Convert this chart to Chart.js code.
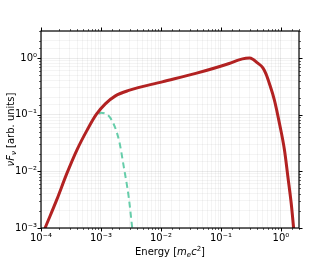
<!DOCTYPE html>
<html><head><meta charset="utf-8">
<script src="https://cdn.jsdelivr.net/npm/chart.js@4/dist/chart.umd.min.js"></script>
<style>html,body{margin:0;padding:0;background:#fff;}#wrap{width:332px;height:261px;}</style>
</head><body><div id="wrap"><canvas id="c" width="332" height="261"></canvas></div>
<script>
const totalEnergy = [1.1e-4, 1.17e-4, 1.82e-4, 2.69e-4, 3.98e-4, 5.9e-4, 8.3e-4, 1.18e-3, 1.74e-3, 2.9e-3, 1.05e-2, 3.8e-2, 0.137, 0.20, 0.26, 0.30, 0.34, 0.40, 0.50, 0.565, 0.641, 0.778, 0.944, 1.145, 1.305, 1.483, 1.62, 1.66];
const totalFlux   = [0.00085, 0.001, 0.0031, 0.0091, 0.024, 0.054, 0.10, 0.155, 0.215, 0.268, 0.38, 0.535, 0.80, 0.93, 0.99, 1.0, 0.95, 0.83, 0.67, 0.52, 0.356, 0.181, 0.0703, 0.0238, 0.00804, 0.00273, 0.00105, 0.0008];
const thermalEnergy = [9.2e-4, 1.0e-3, 1.45e-3, 2.0e-3, 2.4e-3, 2.9e-3, 3.3e-3, 3.4e-3];
const thermalFlux   = [0.104, 0.108, 0.086, 0.035, 0.012, 0.0035, 0.00105, 0.0008];
const xTickLabels = {"-4":"10\u207B\u2074","-3":"10\u207B\u00B3","-2":"10\u207B\u00B2","-1":"10\u207B\u00B9","0":"10\u2070"};
const yTickLabels = {"-3":"10\u207B\u00B3","-2":"10\u207B\u00B2","-1":"10\u207B\u00B9","0":"10\u2070"};

const FONT = "'DejaVu Sans', sans-serif";
function isMajor(v){ const l = Math.log10(v); return Math.abs(l - Math.round(l)) < 1e-6; }
function label(map, v){ if(!isMajor(v)) return ''; const k = String(Math.round(Math.log10(v))); return map[k] !== undefined ? map[k] : ''; }

function drawSegs(ctx, segs, x, y, center){
  let w = 0;
  segs.forEach(s=>{ ctx.font = s[1]; w += ctx.measureText(s[0]).width; });
  let cx = center ? x - w/2 : x;
  segs.forEach(s=>{ ctx.font = s[1]; ctx.fillText(s[0], cx, y + (s[2]||0)); cx += ctx.measureText(s[0]).width; });
}

const deco = {
  id: 'deco',
  afterDraw(chart){
    const ctx = chart.ctx, a = chart.chartArea;
    const xs = chart.scales.x, ys = chart.scales.y;
    ctx.save();
    ctx.strokeStyle = '#000';
    xs.ticks.forEach(t=>{
      const px = Math.round(xs.getPixelForValue(t.value)) + 0.5;
      const maj = isMajor(t.value), L = maj ? 3.5 : 2;
      ctx.lineWidth = maj ? 1 : 0.6;
      ctx.beginPath(); ctx.moveTo(px, a.bottom); ctx.lineTo(px, a.bottom + L); ctx.stroke();
      ctx.beginPath(); ctx.moveTo(px, a.top); ctx.lineTo(px, a.top - L); ctx.stroke();
    });
    ys.ticks.forEach(t=>{
      const py = Math.round(ys.getPixelForValue(t.value)) + 0.5;
      const maj = isMajor(t.value), L = maj ? 3.5 : 2;
      ctx.lineWidth = maj ? 1 : 0.6;
      ctx.beginPath(); ctx.moveTo(a.left, py); ctx.lineTo(a.left - L, py); ctx.stroke();
      ctx.beginPath(); ctx.moveTo(a.right, py); ctx.lineTo(a.right + L, py); ctx.stroke();
    });
    ctx.lineWidth = 1.2;
    ctx.strokeRect(a.left, a.top, a.right - a.left, a.bottom - a.top);
    ctx.fillStyle = '#000'; ctx.textBaseline = 'alphabetic';
    const n = "10px " + FONT, it = "italic 10px " + FONT, sm = "italic 7px " + FONT, smn = "7px " + FONT;
    drawSegs(ctx, [["Energy [", n], ["m", it], ["e", sm, 2], ["c", it], ["2", smn, -4], ["]", n]], (a.left + a.right)/2, 255, true);
    ctx.translate(14, (a.top + a.bottom)/2);
    ctx.rotate(-Math.PI/2);
    drawSegs(ctx, [["\u03BD", it], ["F", it], ["\u03BD", sm, 2], [" [arb. units]", n]], 0, 0, true);
    ctx.restore();
  }
};

const gridColor = ctx => (ctx.tick && isMajor(ctx.tick.value)) ? 'rgba(0,0,0,0.08)' : 'rgba(0,0,0,0.045)';

new Chart(document.getElementById('c'), {
  type: 'line',
  data: {
    datasets: [
      { data: thermalEnergy.map((e,i)=>({x:e, y:thermalFlux[i]})), borderColor: '#66cdaa', borderWidth: 2, borderDash: [6,4], pointRadius: 0, cubicInterpolationMode: 'monotone', fill: false, order: 2 },
      { data: totalEnergy.map((e,i)=>({x:e, y:totalFlux[i]})), borderColor: '#b22222', borderWidth: 3, pointRadius: 0, cubicInterpolationMode: 'monotone', fill: false, order: 1 }
    ]
  },
  options: {
    responsive: false, animation: false, devicePixelRatio: 1,
    layout: { padding: { top: 31, right: 33, left: 0, bottom: 0 } },
    plugins: { legend: { display: false }, tooltip: { enabled: false } },
    scales: {
      x: {
        type: 'logarithmic', min: 1e-4, max: 2,
        border: { display: false },
        grid: { color: gridColor, drawTicks: false },
        ticks: { autoSkip: false, maxRotation: 0, minRotation: 0, padding: 4, color: '#000', font: { family: FONT, size: 10 }, callback: v => label(xTickLabels, v) },
        afterFit(s){ s.height = 33; }
      },
      y: {
        type: 'logarithmic', min: 1e-3, max: 3,
        border: { display: false },
        grid: { color: gridColor, drawTicks: false },
        ticks: { autoSkip: false, padding: 4, color: '#000', font: { family: FONT, size: 10 }, callback: v => label(yTickLabels, v) },
        afterFit(s){ s.width = 41; }
      }
    }
  },
  plugins: [deco]
});
</script></body></html>
